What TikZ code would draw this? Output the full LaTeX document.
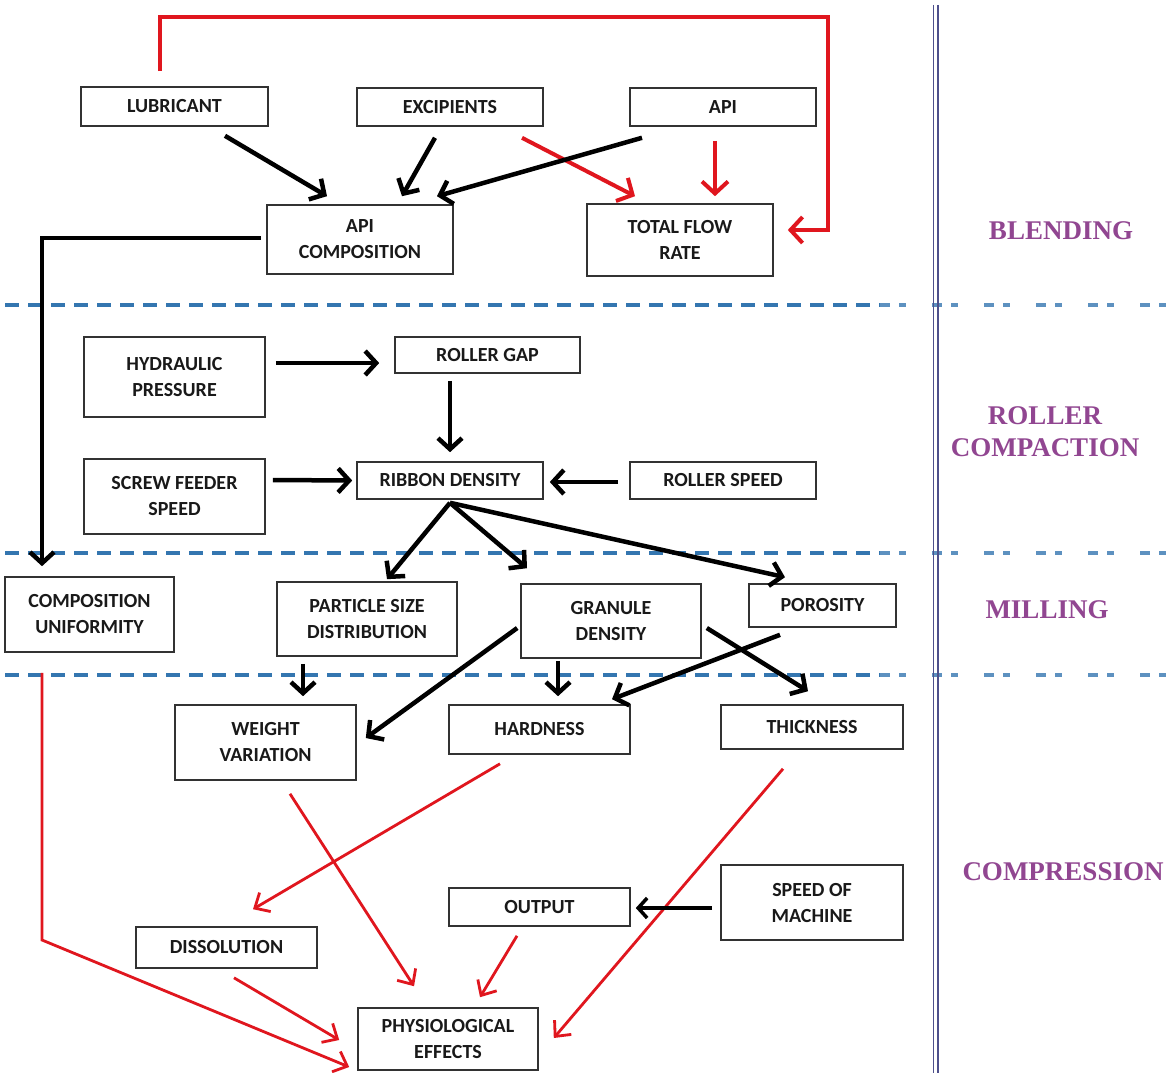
\documentclass[tikz,border=0pt]{standalone}
\usepackage{fontspec}
\setmainfont{Carlito}
\newfontfamily\labfont{Liberation Serif}
\usetikzlibrary{arrows.meta}
\definecolor{arrred}{RGB}{224,22,30}
\definecolor{dashblue}{RGB}{52,118,176}
\definecolor{labpurple}{RGB}{145,70,145}
\definecolor{divblue}{RGB}{78,80,140}
\definecolor{boxgray}{RGB}{50,50,50}
\tikzset{
  box/.style={draw=boxgray, line width=1.6pt, rectangle, inner sep=0pt, align=center,
    font=\fontsize{20}{26}\selectfont\bfseries, text=black!90},
  blk/.style={line width=4.5pt, black, -{Straight Barb[length=11pt,width=24pt,line width=4.5pt]}},
  redthick/.style={line width=4pt, arrred, -{Straight Barb[length=12pt,width=26pt,line width=4pt]}},
  redthin/.style={line width=2.8pt, arrred, -{Straight Barb[length=12pt,width=22pt,line width=2.8pt]}},
  bluedash/.style={dashblue, line width=3.5pt, dash pattern=on 14pt off 9pt},
  bluesparse/.style={dashblue!80, line width=3.5pt, dash pattern=on 10pt off 9pt on 7pt off 26pt},
  lab/.style={font=\labfont\fontsize{27}{32}\selectfont\bfseries, text=labpurple, align=center},
}
\begin{document}
\begin{tikzpicture}[x=1pt,y=-1pt]
\useasboundingbox (0,0) rectangle (1167,1073);
\fill[white] (0,0) rectangle (1167,1073);

% section separators
\draw[bluedash] (5,305) -- (880,305);
\draw[bluesparse] (880,305) -- (1167,305);
\draw[bluedash] (5,553) -- (880,553);
\draw[bluesparse] (880,553) -- (1167,553);
\draw[bluedash] (5,675) -- (880,675);
\draw[bluesparse] (880,675) -- (1167,675);
\draw[divblue, line width=1.4pt] (933.5,5) -- (933.5,1073);
\draw[divblue, line width=1.4pt] (938,5) -- (938,1073);

% section labels
\node[lab] (lblend) at (1061,231) {BLENDING};
\node[lab] (lroll) at (1045,432) {ROLLER\\COMPACTION};
\node[lab] (lmill) at (1047,610) {MILLING};
\node[lab] (lcomp) at (1063,872) {COMPRESSION};

% boxes
\node[box, minimum width=187pt, minimum height=39pt] (lub) at (174.5,106.5) {LUBRICANT};
\node[box, minimum width=186pt, minimum height=38pt] (exc) at (450,107) {EXCIPIENTS};
\node[box, minimum width=186pt, minimum height=38pt] (api) at (723,107) {API};
\node[box, minimum width=186pt, minimum height=69pt] (apic) at (360,239.5) {API\\COMPOSITION};
\node[box, minimum width=186pt, minimum height=72pt] (tfr) at (680,240) {TOTAL FLOW\\RATE};
\node[box, minimum width=181pt, minimum height=80pt] (hyd) at (174.5,377) {HYDRAULIC\\PRESSURE};
\node[box, minimum width=185pt, minimum height=36pt] (rgap) at (487.5,355) {ROLLER GAP};
\node[box, minimum width=181pt, minimum height=75pt] (scr) at (174.5,496.5) {SCREW FEEDER\\SPEED};
\node[box, minimum width=186pt, minimum height=37pt] (rib) at (450,480.5) {RIBBON DENSITY};
\node[box, minimum width=186pt, minimum height=37pt] (rsp) at (723,480.5) {ROLLER SPEED};
\node[box, minimum width=169pt, minimum height=75pt] (cu) at (89.5,614.5) {COMPOSITION\\UNIFORMITY};
\node[box, minimum width=180pt, minimum height=74pt] (psd) at (367,619) {PARTICLE SIZE\\DISTRIBUTION};
\node[box, minimum width=180pt, minimum height=74pt] (gd) at (611,621) {GRANULE\\DENSITY};
\node[box, minimum width=147pt, minimum height=43pt] (por) at (822.5,605.5) {POROSITY};
\node[box, minimum width=181pt, minimum height=75pt] (wv) at (265.5,742.5) {WEIGHT\\VARIATION};
\node[box, minimum width=181pt, minimum height=49pt] (hard) at (539.5,729.5) {HARDNESS};
\node[box, minimum width=182pt, minimum height=44pt] (thick) at (812,727) {THICKNESS};
\node[box, minimum width=182pt, minimum height=75pt] (spd) at (812,902.5) {SPEED OF\\MACHINE};
\node[box, minimum width=181pt, minimum height=38pt] (out) at (539.5,907) {OUTPUT};
\node[box, minimum width=181pt, minimum height=41pt] (dis) at (226.5,947.5) {DISSOLUTION};
\node[box, minimum width=180pt, minimum height=62pt] (phys) at (448,1039) {PHYSIOLOGICAL\\EFFECTS};

\coordinate (topc) at (828,17);
\coordinate (cuc) at (42,940);

% blending
\draw[redthick] ([shift={(-14.5,-15)}]lub.north) |- (topc) |- ([shift={(14,-10)}]tfr.east);
\draw[redthick] ([shift={(72,11)}]exc.south) -- ([shift={(-45,-7)}]tfr.north);
\draw[redthick] ([shift={(-8,14)}]api.south) -- ([shift={(35,-7)}]tfr.north);
\draw[blk] ([shift={(50.5,9)}]lub.south) -- ([shift={(-33,-8)}]apic.north);
\draw[blk] ([shift={(-15,11)}]exc.south) -- ([shift={(42,-8)}]apic.north);
\draw[blk] ([shift={(-81,11)}]api.south) -- ([shift={(77,-8)}]apic.north);
\draw[blk] ([shift={(-5,-1.5)}]apic.west) -| ([shift={(-47.5,-10)}]cu.north);

% roller compaction
\draw[blk] ([shift={(10,-14)}]hyd.east) -- ([shift={(-15,8)}]rgap.west);
\draw[blk] ([shift={(-37.5,7)}]rgap.south) -- ([shift={(0,-9)}]rib.north);
\draw[blk] ([shift={(7,-16.5)}]scr.east) -- ([shift={(-4,0)}]rib.west);
\draw[blk] ([shift={(-11,1.5)}]rsp.west) -- ([shift={(6,1.5)}]rib.east);
\draw[blk] ([shift={(0,3)}]rib.south) -- ([shift={(20,-2)}]psd.north);
\draw[blk] ([shift={(0,3)}]rib.south) -- ([shift={(-84,-15)}]gd.north);
\draw[blk] ([shift={(0,3)}]rib.south) -- ([shift={(-37.5,-6)}]por.north);

% milling
\draw[blk] ([shift={(-64,7)}]psd.south) -- ([shift={(37.5,-8)}]wv.north);
\draw[blk] ([shift={(-3,7)}]gd.west) -- ([shift={(9,-4.5)}]wv.east);
\draw[blk] ([shift={(-53,2)}]gd.south) -- ([shift={(18.5,-8)}]hard.north);
\draw[blk] ([shift={(5,7)}]gd.east) -- ([shift={(-4,-13)}]thick.north);
\draw[blk] ([shift={(-42.5,7)}]por.south) -- ([shift={(72.5,-5)}]hard.north);

% compression
\draw[redthin] ([shift={(-47.5,20)}]cu.south) -- (cuc) -- ([shift={(-8,28)}]phys.west);
\draw[redthin] ([shift={(24.5,13)}]wv.south) -- ([shift={(-34,-21)}]phys.north);
\draw[redthin] ([shift={(-39.5,9)}]hard.south) -- ([shift={(26.5,-17)}]dis.north);
\draw[redthin] ([shift={(-29,19)}]thick.south) -- ([shift={(15,-1)}]phys.east);
\draw[redthin] ([shift={(-22.5,9)}]out.south) -- ([shift={(32,-10)}]phys.north);
\draw[redthin] ([shift={(7.5,9)}]dis.south) -- ([shift={(-18,1)}]phys.west);
\draw[blk, line width=3.5pt, -{Straight Barb[length=9pt,width=20pt,line width=3.5pt]}] ([shift={(-8,5.5)}]spd.west) -- ([shift={(5,1)}]out.east);
\end{tikzpicture}
\end{document}
